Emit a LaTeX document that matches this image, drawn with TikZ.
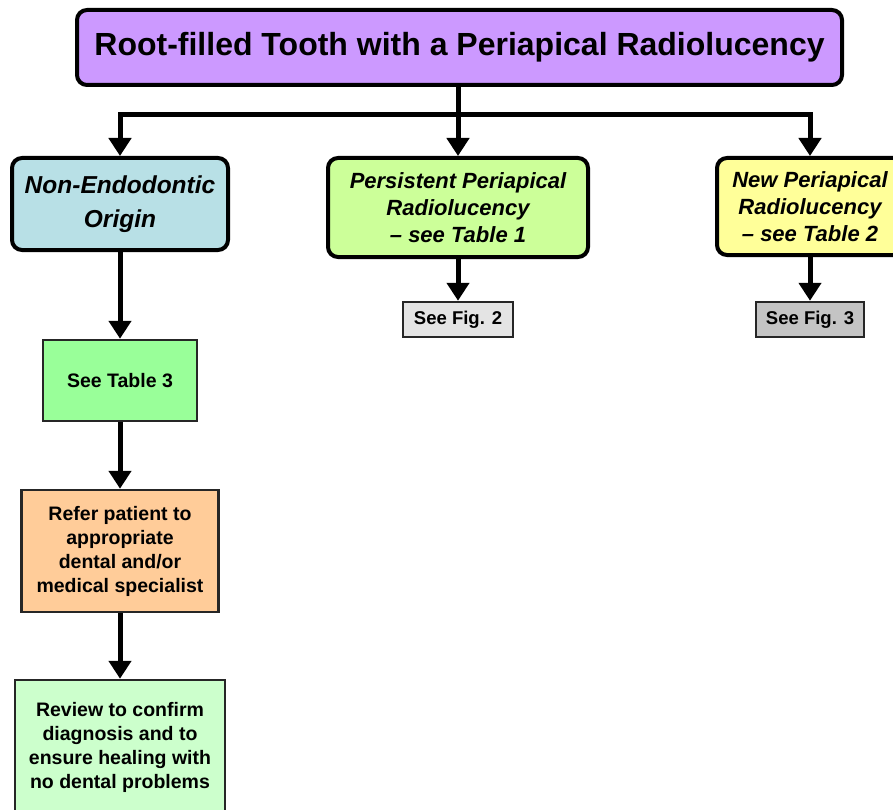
\documentclass[tikz,border=0pt]{standalone}
\usepackage{fontspec}
\setmainfont{Liberation Sans}
\usetikzlibrary{arrows.meta}
\definecolor{cTop}{HTML}{CC99FF}
\definecolor{cLeft}{HTML}{B8E0E6}
\definecolor{cMid}{HTML}{CCFF99}
\definecolor{cRight}{HTML}{FFFF99}
\definecolor{cFigA}{HTML}{E4E4E4}
\definecolor{cFigB}{HTML}{C4C4C4}
\definecolor{cTab}{HTML}{99FF99}
\definecolor{cOrange}{HTML}{FFCC99}
\definecolor{cLast}{HTML}{CCFFCC}
\tikzset{
  rbox/.style={draw=black, line width=4pt, rounded corners=10pt, align=center, inner sep=0pt},
  sbox/.style={draw=black!85, line width=2.5pt, align=center, inner sep=0pt},
  conn/.style={draw=black, line width=5pt, -{Triangle[width=22pt,length=18pt]}},
  line/.style={draw=black, line width=5pt}
}
\begin{document}
\begin{tikzpicture}[x=1pt,y=-1pt]
\useasboundingbox (0,0) rectangle (893,810);
\clip (0,0) rectangle (893,810);
\fill[white] (0,0) rectangle (893,810);

\node[rbox, fill=cTop, minimum width=765pt, minimum height=75pt,
      font=\fontsize{32}{38}\selectfont\bfseries] (top) at (459.5,47.5)
  {Root-filled Tooth with a Periapical Radiolucency};

\node[rbox, fill=cLeft, minimum width=216pt, minimum height=92pt,
      font=\fontsize{24.5}{34}\selectfont\bfseries\itshape] (left) at (120,204)
  {Non-Endodontic\\Origin};

\node[rbox, fill=cMid, minimum width=260pt, minimum height=99pt,
      font=\fontsize{22}{27}\selectfont\bfseries\itshape] (mid) at (458,207.5)
  {Persistent Periapical\\Radiolucency\\– see Table 1};

\node[rbox, fill=cRight, minimum width=186pt, minimum height=97pt,
      font=\fontsize{22}{27}\selectfont\bfseries\itshape] (right) at (810,206.5)
  {New Periapical\\Radiolucency\\– see Table 2};

\node[sbox, fill=cFigA, minimum width=110pt, minimum height=35pt,
      font=\fontsize{18.5}{22}\selectfont\bfseries] (figa) at (458,319.5) {See Fig. 2};
\node[sbox, fill=cFigB, minimum width=108pt, minimum height=35pt,
      font=\fontsize{18.5}{22}\selectfont\bfseries] (figb) at (810,319.5) {See Fig. 3};

\node[sbox, fill=cTab, minimum width=154pt, minimum height=81pt,
      font=\fontsize{19.5}{24}\selectfont\bfseries] (tab) at (120,380.5) {See Table 3};

\node[sbox, fill=cOrange, minimum width=197pt, minimum height=122pt,
      font=\fontsize{19.5}{24}\selectfont\bfseries] (refer) at (120,551)
  {Refer patient to\\appropriate\\dental and/or\\medical specialist};

\node[sbox, fill=cLast, minimum width=210pt, minimum height=135pt,
      font=\fontsize{19.5}{24}\selectfont\bfseries] (review) at (120,747.5)
  {Review to confirm\\diagnosis and to\\ensure healing with\\no dental problems};

\coordinate (j) at (458,115);
\draw[line] (top.south -| j) -- (j);
\draw[conn] (j) -| (left.north);
\draw[conn] (j) -- (mid.north);
\draw[conn] (j) -| (right.north);
\draw[conn] (mid.south) -- (figa.north);
\draw[conn] (right.south) -- (figb.north);
\draw[conn] (left.south) -- (tab.north);
\draw[conn] (tab.south) -- (refer.north);
\draw[conn] (refer.south) -- (review.north);
\end{tikzpicture}
\end{document}
